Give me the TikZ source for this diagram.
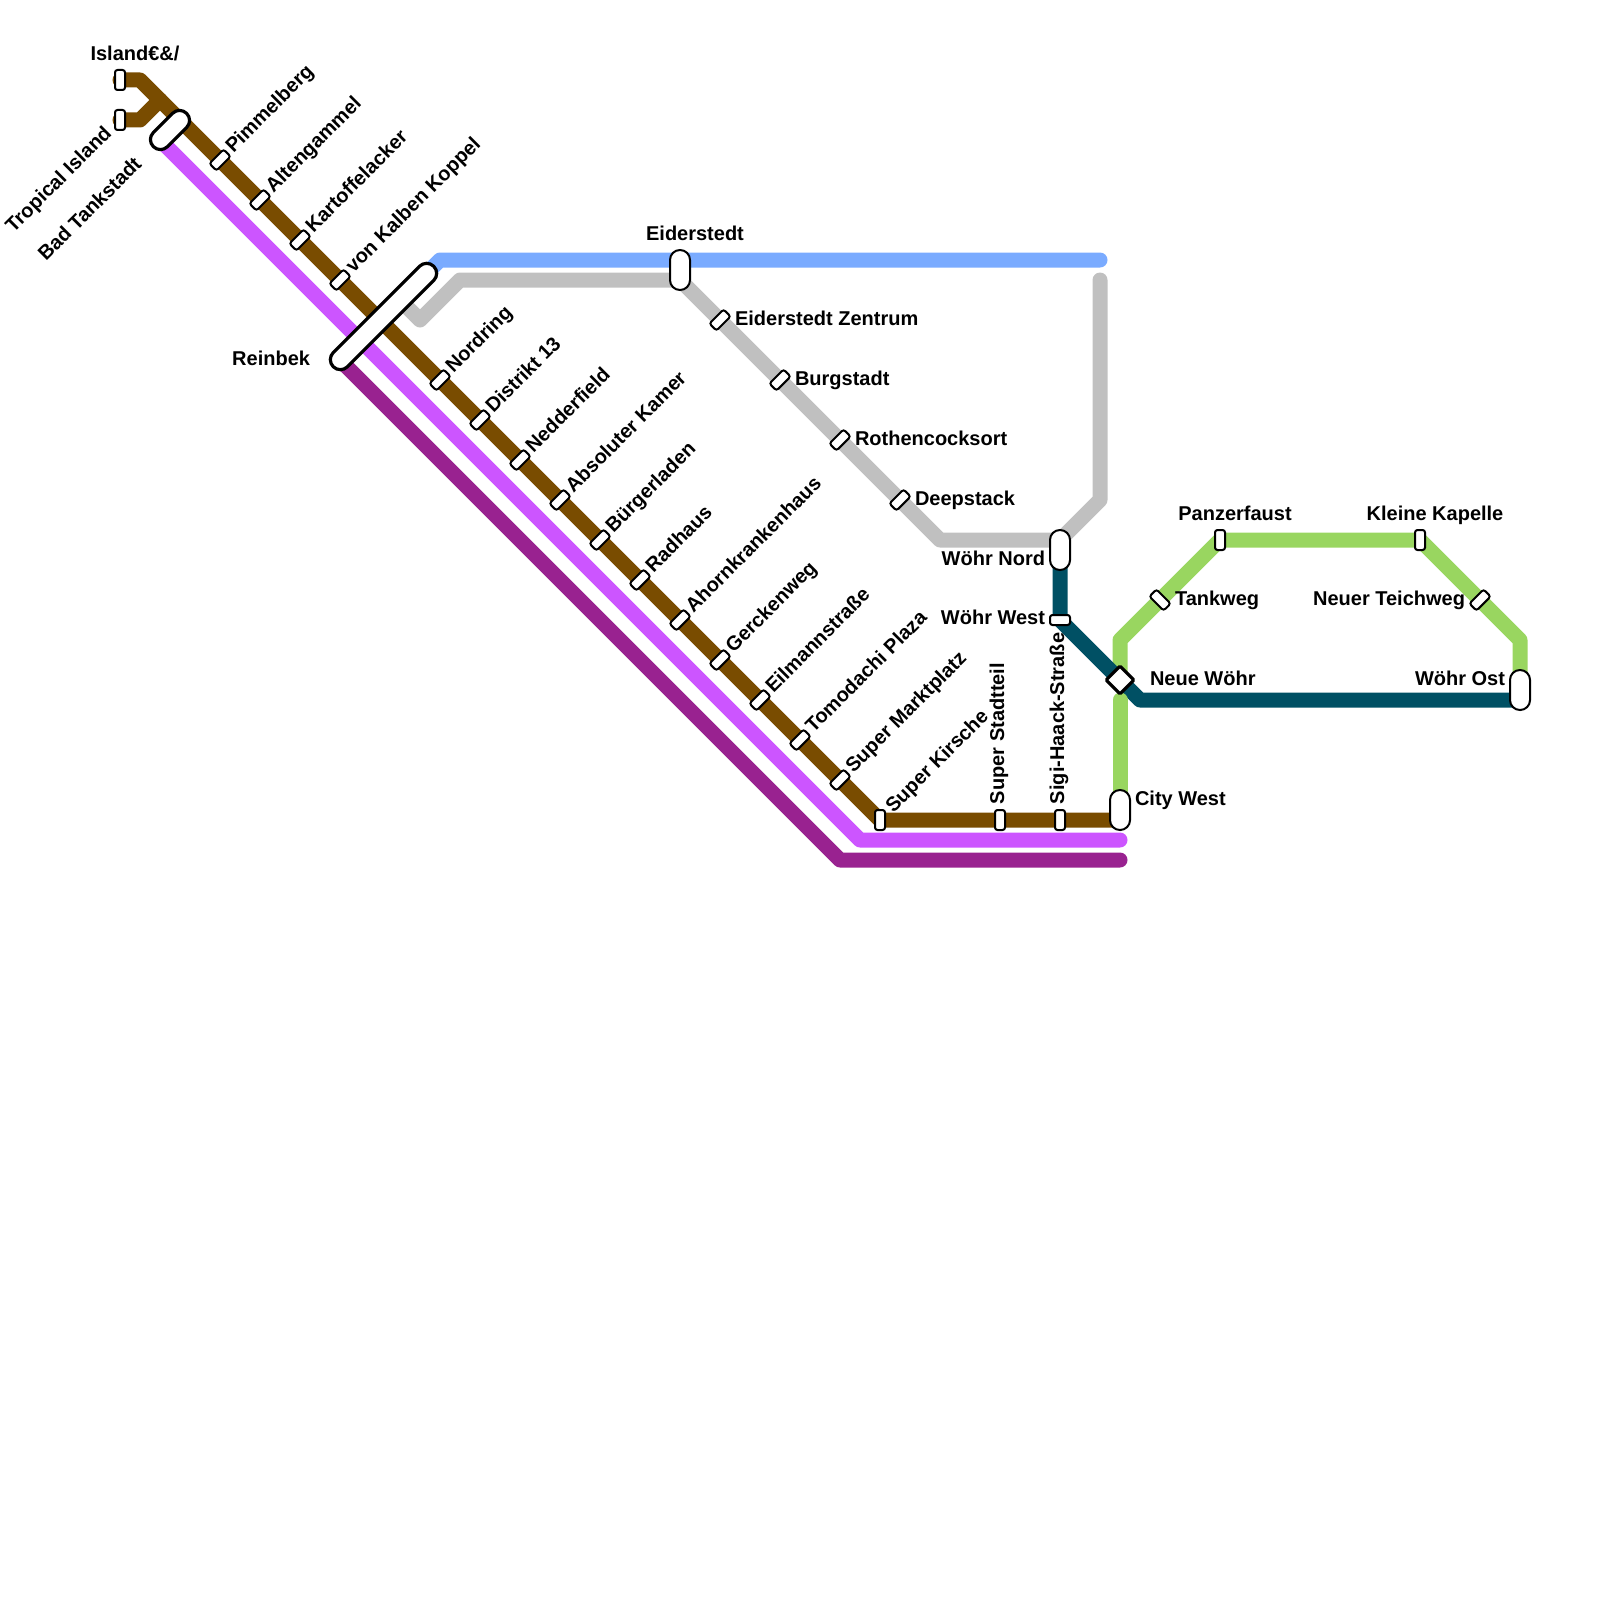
\documentclass[tikz,border=0pt]{standalone}
\usepackage{fontspec}
\setmainfont{Liberation Sans}
\usetikzlibrary{backgrounds}
\definecolor{cbrown}{HTML}{794C00}
\definecolor{cmag}{HTML}{CC55FF}
\definecolor{cpur}{HTML}{992290}
\definecolor{cblue}{HTML}{7AABFF}
\definecolor{cgray}{HTML}{C0C0C0}
\definecolor{cgreen}{HTML}{99D660}
\definecolor{cteal}{HTML}{005064}
\tikzset{
  metro/.style={line width=15pt,line join=round,line cap=round},
  smallst/.style={draw=black,fill=white,line width=2pt,rectangle,inner sep=0pt,outer sep=0pt,minimum width=10pt,minimum height=20pt,rounded corners=2.5pt},
  bigst/.style={draw=black,fill=white,line width=2pt,rectangle,inner sep=0pt,outer sep=0pt,minimum width=20pt,minimum height=40pt,rounded corners=9.9pt},
  longst/.style={draw=black,fill=white,line width=3.2pt,rectangle,inner sep=0pt,outer sep=0pt,minimum height=20pt,rounded corners=9.9pt},
  hub/.style={draw=black,fill=white,line width=3.2pt,rectangle,inner sep=0pt,outer sep=0pt,minimum width=19.5pt,minimum height=19.5pt,rounded corners=1pt,rotate=45},
  lab/.style={font=\fontsize{20}{20}\selectfont\bfseries,inner sep=0pt,outer sep=0pt,text=black,text height=14pt,text depth=4pt},
  diaglab/.style={lab,rotate=45,anchor=west},
  diagend/.style={lab,rotate=45,anchor=east},
  vertlab/.style={lab,rotate=90,anchor=west},
  lft/.style={lab,anchor=west},
  rgt/.style={lab,anchor=east},
}
\begin{document}
\begin{tikzpicture}[x=1pt,y=-1pt]
\useasboundingbox (0,0) rectangle (1600,1600);
% stations
\node[smallst] (island) at (120,80) {};
\node[smallst] (tropical) at (120,120) {};
\node[longst,minimum width=47pt,rotate=45] (bad) at (170,130) {};
\node[smallst,rotate=-45] (pim) at (220,160) {};
\node[smallst,rotate=-45] (alt) at (260,200) {};
\node[smallst,rotate=-45] (kar) at (300,240) {};
\node[smallst,rotate=-45] (kal) at (340,280) {};
\node[longst,minimum width=142pt,rotate=45] (rein) at (383.5,316.5) {};
\node[smallst,rotate=-45] (nor) at (440,380) {};
\node[smallst,rotate=-45] (dis) at (480,420) {};
\node[smallst,rotate=-45] (ned) at (520,460) {};
\node[smallst,rotate=-45] (abs) at (560,500) {};
\node[smallst,rotate=-45] (bue) at (600,540) {};
\node[smallst,rotate=-45] (rad) at (640,580) {};
\node[smallst,rotate=-45] (aho) at (680,620) {};
\node[smallst,rotate=-45] (ger) at (720,660) {};
\node[smallst,rotate=-45] (eil) at (760,700) {};
\node[smallst,rotate=-45] (tom) at (800,740) {};
\node[smallst,rotate=-45] (mar) at (840,780) {};
\node[smallst] (kir) at (880,820) {};
\node[smallst] (sta) at (1000,820) {};
\node[smallst] (sig) at (1060,820) {};
\node[bigst] (city) at (1120,810) {};
\node[bigst] (eid) at (680,270) {};
\node[smallst,rotate=-45] (zen) at (720,320) {};
\node[smallst,rotate=-45] (bur) at (780,380) {};
\node[smallst,rotate=-45] (rot) at (840,440) {};
\node[smallst,rotate=-45] (dee) at (900,500) {};
\node[bigst] (nord) at (1060,550) {};
\node[smallst,rotate=90] (west) at (1060,620) {};
\node[hub] (neue) at (1120,680) {};
\node[smallst,rotate=45] (tank) at (1160,600) {};
\node[smallst] (pan) at (1220,540) {};
\node[smallst] (kap) at (1420,540) {};
\node[smallst,rotate=-45] (tei) at (1480,600) {};
\node[bigst] (ost) at (1520,690) {};
% bends and free ends
\coordinate (b1) at (140,80);
\coordinate (b2) at (140,120);
\coordinate (b3) at (160,100);
\coordinate (b4) at (880,820);
\coordinate (brownend) at (1120,820);
\coordinate (magstart) at (160,140);
\coordinate (magbend) at (860,840);
\coordinate (magend) at (1120,840);
\coordinate (purstart) at (340,360);
\coordinate (purbend) at (840,860);
\coordinate (purend) at (1120,860);
\coordinate (blustart) at (420,280);
\coordinate (blubend) at (440,260);
\coordinate (bluend) at (1100,260);
\coordinate (grastart) at (400,300);
\coordinate (gra1) at (420,320);
\coordinate (gra2) at (460,280);
\coordinate (gra3) at (680,280);
\coordinate (gra4) at (940,540);
\coordinate (gra5) at (1060,540);
\coordinate (gra6) at (1100,500);
\coordinate (graend) at (1100,280);
\coordinate (tea1) at (1140,700);
\coordinate (teaend) at (1520,700);
\coordinate (grn1) at (1120,640);
\coordinate (grn3) at (1520,640);
\coordinate (grn4) at (1120,700);
\begin{scope}[on background layer]
\draw[metro,cpur] (purstart) -- (purbend) -- (purend);
\draw[metro,cmag] (magstart) -- (magbend) -- (magend);
\draw[metro,cbrown] (island.center) -- (b1) -- (b4) -- (brownend);
\draw[metro,cbrown] (tropical.center) -- (b2) -- (b3);
\draw[metro,cblue] (blustart) -- (blubend) -- (bluend);
\draw[metro,cgray] (grastart) -- (gra1) -- (gra2) -- (gra3) -- (gra4) -- (gra5) -- (gra6) -- (graend);
\draw[metro,cgreen] (neue.center) -- (grn1) -- (pan.center) -- (kap.center) -- (grn3) -- (ost.center);
\draw[metro,cteal] (nord.center) -- (west.center) -- (tea1) -- (teaend);
\draw[metro,cgreen] (grn4) -- (city.center);
\end{scope}
% labels
\node[lab] at (135,56) {Island€\&/};
\node[diagend] at (109,131) {Tropical Island};
\node[diagend] at (139,162) {Bad Tankstadt};
\node[diaglab] at (230,150) {Pimmelberg};
\node[diaglab] at (270,190) {Altengammel};
\node[diaglab] at (310,230) {Kartoffelacker};
\node[diaglab] at (350,270) {von Kalben Koppel};
\node[rgt] at (310,360) {Reinbek};
\node[diaglab] at (450,370) {Nordring};
\node[diaglab] at (490,410) {Distrikt 13};
\node[diaglab] at (530,450) {Nedderfield};
\node[diaglab] at (570,490) {Absoluter Kamer};
\node[diaglab] at (610,530) {Bürgerladen};
\node[diaglab] at (650,570) {Radhaus};
\node[diaglab] at (690,610) {Ahornkrankenhaus};
\node[diaglab] at (730,650) {Gerckenweg};
\node[diaglab] at (770,690) {Eilmannstraße};
\node[diaglab] at (810,730) {Tomodachi Plaza};
\node[diaglab] at (850,770) {Super Marktplatz};
\node[diaglab] at (890,810) {Super Kirsche};
\node[vertlab] at (999,804) {Super Stadtteil};
\node[vertlab] at (1059,804) {Sigi-Haack-Straße};
\node[lft] at (1135,800) {City West};
\node[lab] at (695,235) {Eiderstedt};
\node[lft] at (735,320) {Eiderstedt Zentrum};
\node[lft] at (795,380) {Burgstadt};
\node[lft] at (855,440) {Rothencocksort};
\node[lft] at (915,500) {Deepstack};
\node[rgt] at (1045,560) {Wöhr Nord};
\node[rgt] at (1045,619) {Wöhr West};
\node[lft] at (1150,680) {Neue Wöhr};
\node[lft] at (1175,600) {Tankweg};
\node[lab] at (1235,515) {Panzerfaust};
\node[lab] at (1435,515) {Kleine Kapelle};
\node[rgt] at (1465,600) {Neuer Teichweg};
\node[rgt] at (1505,680) {Wöhr Ost};
\end{tikzpicture}
\end{document}
